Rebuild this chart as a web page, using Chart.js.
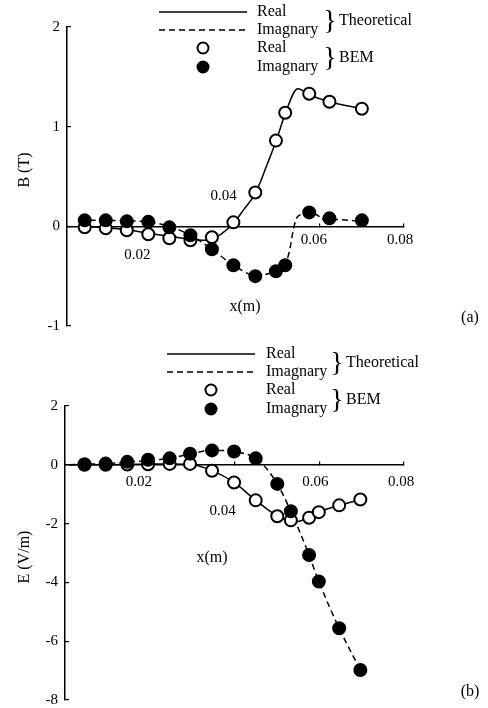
<!DOCTYPE html>
<html>
<head>
<meta charset="utf-8">
<script src="https://cdn.jsdelivr.net/npm/chart.js@4.4.0/dist/chart.umd.min.js"></script>
<style>
  html, body { margin: 0; padding: 0; background: #fff; }
  canvas { display: block; }
</style>
</head>
<body>
<canvas id="chartB" width="488" height="340"></canvas>
<canvas id="chartE" width="488" height="368"></canvas>
<script>
// ===================== Data =====================
const xTickValues = [0.02, 0.04, 0.06, 0.08];
const xTickLabels = ['0.02', '0.04', '0.06', '0.08'];

// (a) magnetic flux density B (T)
const bBemX      = [0.0042, 0.0092, 0.0142, 0.0193, 0.0243, 0.0293, 0.0344, 0.0395, 0.0447, 0.0496, 0.0518, 0.0575, 0.0623, 0.0700];
const bBemReal   = [-0.01, -0.02, -0.04, -0.08, -0.12, -0.14, -0.11, 0.04, 0.34, 0.86, 1.14, 1.33, 1.25, 1.18];
const bBemImag   = [0.06, 0.06, 0.05, 0.045, -0.01, -0.09, -0.23, -0.39, -0.50, -0.45, -0.39, 0.14, 0.08, 0.06];
const bThReX     = [0.003, 0.0092, 0.0142, 0.0193, 0.0243, 0.0293, 0.033, 0.0365, 0.0395, 0.042, 0.0447, 0.0475, 0.0496, 0.0518, 0.0548, 0.0575, 0.0623, 0.0700];
const bThRe      = [0.0, -0.015, -0.035, -0.07, -0.10, -0.13, -0.14, -0.08, 0.03, 0.17, 0.33, 0.62, 0.85, 1.13, 1.38, 1.32, 1.25, 1.18];
const bThImX     = [0.003, 0.0092, 0.0142, 0.0193, 0.0243, 0.0293, 0.0344, 0.0395, 0.0447, 0.0496, 0.0518, 0.0528, 0.0538, 0.0548, 0.0575, 0.0598, 0.0602, 0.0623, 0.0700];
const bThIm      = [0.06, 0.06, 0.055, 0.045, 0.0, -0.09, -0.23, -0.39, -0.49, -0.45, -0.38, -0.25, -0.02, 0.10, 0.13, 0.10, 0.07, 0.07, 0.05];

// (b) electric field E (V/m)
const eBemX      = [0.0046, 0.0096, 0.0147, 0.0196, 0.0247, 0.0295, 0.0347, 0.0399, 0.0450, 0.0501, 0.0533, 0.0576, 0.0599, 0.0647, 0.0697];
const eBemReal   = [0.0, 0.0, 0.01, 0.02, 0.03, 0.03, -0.20, -0.60, -1.21, -1.75, -1.89, -1.80, -1.61, -1.38, -1.18];
const eBemImag   = [0.02, 0.04, 0.10, 0.17, 0.22, 0.38, 0.49, 0.45, 0.22, -0.65, -1.58, -3.07, -3.97, -5.56, -6.98];
const eThReX     = [0.001, 0.0096, 0.0147, 0.0196, 0.0247, 0.0295, 0.0347, 0.0399, 0.0450, 0.0501, 0.0540, 0.0576, 0.0599, 0.0647, 0.0697];
const eThRe      = [0.0, 0.0, 0.01, 0.02, 0.03, 0.02, -0.20, -0.60, -1.21, -1.74, -1.95, -1.80, -1.61, -1.38, -1.18];
const eThImX     = [0.001, 0.0046, 0.0096, 0.0147, 0.0196, 0.0247, 0.0295, 0.0347, 0.0399, 0.0450, 0.0475, 0.0501, 0.0533, 0.0576, 0.0599, 0.0647, 0.0697];
const eThIm      = [0.0, 0.02, 0.04, 0.09, 0.15, 0.22, 0.37, 0.49, 0.45, 0.22, -0.12, -0.65, -1.58, -3.07, -3.97, -5.56, -6.98];

// ===================== Helpers =====================
const serif = '"Liberation Serif", "Times New Roman", serif';
const zip = (xs, ys) => xs.map((x, i) => ({ x: x, y: ys[i] }));

// draws tick labels, titles, panel tag and the bracket legend
function annotations(cfg) {
  return {
    id: 'annotations',
    afterDraw(chart) {
      const ctx = chart.ctx;
      const xs = chart.scales.x;
      const y0 = chart.scales.y.getPixelForValue(0);
      ctx.save();
      ctx.fillStyle = '#000';
      ctx.strokeStyle = '#000';
      ctx.textBaseline = 'middle';
      ctx.textAlign = 'center';

      ctx.font = '15px ' + serif;
      xTickValues.forEach((v, i) => {
        const off = cfg.tickOffsets[i];
        ctx.fillText(xTickLabels[i], xs.getPixelForValue(v) + off[0], y0 + off[1]);
      });

      ctx.font = '16px ' + serif;
      ctx.fillText('x(m)', cfg.xTitle[0], cfg.xTitle[1]);
      ctx.fillText(cfg.tag, cfg.tagPos[0], cfg.tagPos[1]);

      ctx.save();
      ctx.translate(cfg.yTitlePos[0], cfg.yTitlePos[1]);
      ctx.rotate(-Math.PI / 2);
      ctx.fillText(cfg.yTitle, 0, 0);
      ctx.restore();

      // legend
      const L = cfg.legend;
      ctx.lineWidth = 1.5;
      ctx.beginPath();
      ctx.moveTo(L.x0, L.rows[0]); ctx.lineTo(L.x1, L.rows[0]);
      ctx.stroke();
      ctx.setLineDash([6, 4]);
      ctx.beginPath();
      ctx.moveTo(L.x0, L.rows[1]); ctx.lineTo(L.x1, L.rows[1]);
      ctx.stroke();
      ctx.setLineDash([]);
      const cx = (L.x0 + L.x1) / 2;
      ctx.lineWidth = 2;
      ctx.beginPath(); ctx.arc(cx, L.rows[2], 5.5, 0, Math.PI * 2);
      ctx.fillStyle = '#fff'; ctx.fill(); ctx.stroke();
      ctx.beginPath(); ctx.arc(cx, L.rows[3], 5.5, 0, Math.PI * 2);
      ctx.fillStyle = '#000'; ctx.fill(); ctx.stroke();

      ctx.textAlign = 'left';
      ['Real', 'Imagnary', 'Real', 'Imagnary'].forEach((t, i) => ctx.fillText(t, L.textX, L.rows[i]));
      const mid1 = (L.rows[0] + L.rows[1]) / 2, mid2 = (L.rows[2] + L.rows[3]) / 2;
      ctx.font = '28px ' + serif;
      ctx.textAlign = 'center';
      ctx.fillText('}', L.braceX, mid1 + 1);
      ctx.fillText('}', L.braceX, mid2 + 1);
      ctx.font = '16px ' + serif;
      ctx.textAlign = 'left';
      ctx.fillText('Theoretical', L.braceX + 9, mid1);
      ctx.fillText('BEM', L.braceX + 9, mid2);
      ctx.restore();
    }
  };
}

function makeChart(id, sets, yRange, pad, axisWidth, annot) {
  new Chart(document.getElementById(id), {
    type: 'line',
    data: {
      datasets: [
        { data: sets.bemImag, showLine: false, order: 0, pointRadius: 6, pointBorderWidth: 2,
          pointBackgroundColor: '#000', pointBorderColor: '#000' },
        { data: sets.bemReal, showLine: false, order: 1, pointRadius: 6, pointBorderWidth: 2,
          pointBackgroundColor: '#fff', pointBorderColor: '#000' },
        { data: sets.thRe, order: 2, pointRadius: 0, borderColor: '#000', borderWidth: 1.5,
          cubicInterpolationMode: 'monotone' },
        { data: sets.thIm, order: 3, pointRadius: 0, borderColor: '#000', borderWidth: 1.5,
          borderDash: [6, 4], cubicInterpolationMode: 'monotone' }
      ]
    },
    options: {
      responsive: false,
      animation: false,
      devicePixelRatio: 1,
      layout: { padding: pad },
      plugins: { legend: { display: false }, tooltip: { enabled: false } },
      scales: {
        x: {
          type: 'linear', min: 0, max: 0.08, position: { y: 0 },
          ticks: { display: false, stepSize: 0.02 },
          grid: { drawOnChartArea: false, drawTicks: true, tickLength: -4, color: '#000', lineWidth: 1.2 },
          border: { display: true, color: '#000', width: 1.5 }
        },
        y: {
          type: 'linear', min: yRange[0], max: yRange[1], position: 'left',
          afterFit: s => { s.width = axisWidth; s.paddingTop = 0; s.paddingBottom = 0; },
          ticks: { stepSize: yRange[2], color: '#000', font: { family: serif, size: 15 }, padding: 11 },
          grid: { drawOnChartArea: false, tickLength: -4, color: '#000', lineWidth: 1.2 },
          border: { color: '#000', width: 1.5 }
        }
      }
    },
    plugins: [annotations(annot)]
  });
}

// ===================== Panel (a) =====================
makeChart('chartB', {
  bemReal: zip(bBemX, bBemReal), bemImag: zip(bBemX, bBemImag),
  thRe: zip(bThReX, bThRe), thIm: zip(bThImX, bThIm)
}, [-1, 2, 1], { left: 0, right: 84, top: 27, bottom: 14 }, 67, {
  tickOffsets: [[-14, 29], [-12, -30], [-6, 14], [-4, 14]],
  xTitle: [245, 307], tag: '(a)', tagPos: [470, 318],
  yTitle: 'B (T)', yTitlePos: [25, 170],
  legend: { x0: 159, x1: 247, rows: [12, 30, 48, 67], textX: 257, braceX: 330 }
});

// ===================== Panel (b) =====================
makeChart('chartE', {
  bemReal: zip(eBemX, eBemReal), bemImag: zip(eBemX, eBemImag),
  thRe: zip(eThReX, eThRe), thIm: zip(eThImX, eThIm)
}, [-8, 2, 2], { left: 0, right: 84, top: 66, bottom: 5 }, 65, {
  tickOffsets: [[-11, 17], [-12, 46], [-4, 17], [-3, 17]],
  xTitle: [212, 218], tag: '(b)', tagPos: [470, 352],
  yTitle: 'E (V/m)', yTitlePos: [25, 217],
  legend: { x0: 167, x1: 255, rows: [14, 32, 50, 69], textX: 266, braceX: 337 }
});
</script>
</body>
</html>
